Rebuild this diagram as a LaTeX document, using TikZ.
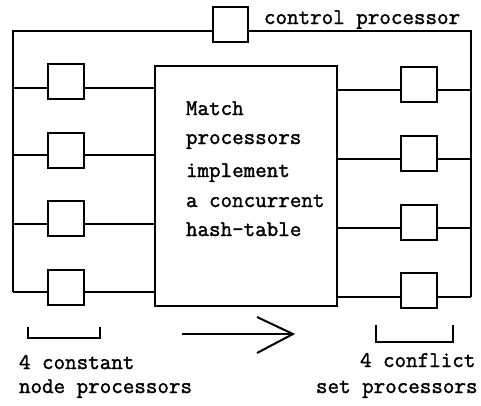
\documentclass[tikz,border=0pt]{standalone}
\usepackage{fontspec}
\newfontfamily\twfont[FakeBold=1.6]{Latin Modern Mono}
\begin{document}
\begin{tikzpicture}[x=1pt,y=-1pt,
  line width=2pt,
  proc/.style={draw,minimum width=36pt,minimum height=35pt,inner sep=0pt},
  lbl/.style={font=\twfont\fontsize{22.4}{26}\selectfont,inner sep=0pt,anchor=base west},
  wire/.style={line width=2pt}]
\useasboundingbox (0,0) rectangle (481,405);
% boxes
\node[proc,minimum width=35pt] (cp) at (230.5,24.5) {};
\node[proc] (L1) at (66,81) {};
\node[proc] (L2) at (66,150) {};
\node[proc] (L3) at (66,218.5) {};
\node[proc] (L4) at (66,287.5) {};
\node[proc] (R1) at (419,84) {};
\node[proc] (R2) at (419,153.5) {};
\node[proc] (R3) at (419,222.5) {};
\node[proc] (R4) at (419,290.5) {};
\node[draw,minimum width=182pt,minimum height=240pt,inner sep=0pt] (M) at (246,186) {};
% rails
\coordinate (tl) at (13,31);
\coordinate (tr) at (471,31);
\coordinate (la) at (13,88);
\coordinate (lb) at (13,155);
\coordinate (lc) at (13,224);
\coordinate (ld) at (13,292);
\coordinate (ra) at (471,90);
\coordinate (rb) at (471,159);
\coordinate (rc) at (471,228);
\coordinate (rd) at (471,297);
\draw[wire] (tl -| cp.west) -- (tl) -- (ld);
\draw[wire] (tr -| cp.east) -- (tr) -- (rd);
\foreach \r/\b in {la/L1,lb/L2,lc/L3,ld/L4}{
  \draw[wire] (\r) -- (\r -| \b.west);
  \draw[wire] (\r -| \b.east) -- (\r -| M.west);
}
\foreach \r/\b in {ra/R1,rb/R2,rc/R3,rd/R4}{
  \draw[wire] (\r -| M.east) -- (\r -| \b.west);
  \draw[wire] (\r -| \b.east) -- (\r);
}
% text in match box
\node[lbl] (t1) at (185,115) {Match};
\node[lbl] (t2) at (185,144) {processors};
\node[lbl] (t3) at (185,177) {implement};
\node[lbl] (t4) at (185,207) {a concurrent};
\node[lbl] (t5) at (185,236) {hash-table};
% labels
\node[lbl] (cpl) at (263,24) {control processor};
\node[lbl] (ll1) at (18,369) {4 constant};
\node[lbl] (ll2) at (18,393) {node processors};
\node[lbl] (rl1) at (359,367) {4 conflict};
\node[lbl] (rl2) at (315,393) {set processors};
% brackets
\draw (28,327) -- (28,338) -- (100,338) -- (100,327);
\draw (376,325) -- (376,342) -- (453,342) -- (453,325);
% arrow
\coordinate (a0) at (182,334);
\coordinate (a1) at (293,334);
\draw (a0) -- (a1);
\draw (257,317) -- (a1) -- (257,353);
\end{tikzpicture}
\end{document}
